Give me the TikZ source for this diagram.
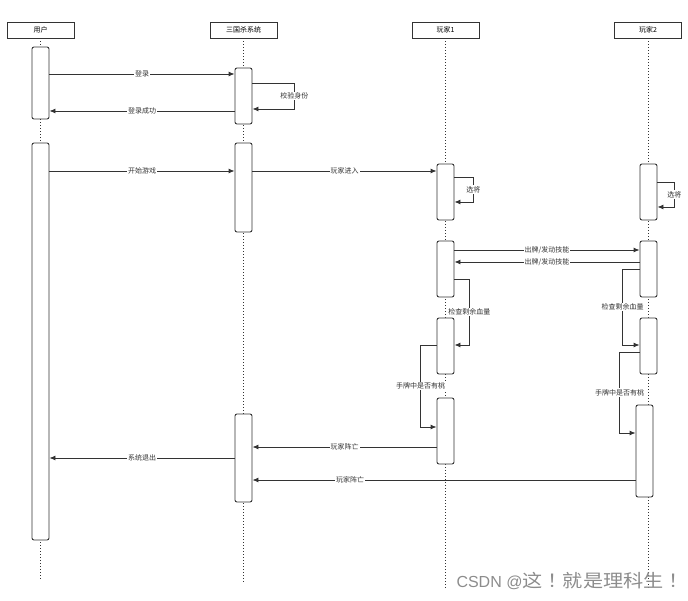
\documentclass[tikz,border=0pt]{standalone}
\usepackage{fontspec}
\setmainfont{Noto Sans CJK SC}
\newfontfamily\latwm{Liberation Sans}
\newfontfamily\wmcjk{Noto Sans CJK TC}
\usetikzlibrary{arrows.meta}
\definecolor{ln}{RGB}{51,51,51}
\begin{document}
\begin{tikzpicture}[x=1pt,y=-1pt,
  hdr/.style={draw=ln, line width=0.9pt, minimum width=67pt, minimum height=16pt, inner sep=0pt, font=\fontsize{7}{8}\selectfont},
  act/.style={draw=ln, fill=white, line width=0.9pt, rounded corners=2pt, minimum width=17pt, inner sep=0pt},
  life/.style={draw=ln, line width=0.8pt, dash pattern=on 1pt off 2pt},
  msg/.style={draw=ln, line width=0.9pt, -{Latex[length=6pt,width=5pt]}},
  lbl/.style={fill=white, inner sep=1pt, text=ln, font=\fontsize{7}{8}\selectfont}
]
\useasboundingbox (0,0) rectangle (688,601);
% headers
\node[hdr] (hu) at (40.5,30) {用户};
\node[hdr] (hs) at (243.5,30) {三国杀系统};
\node[hdr] (h1) at (445.5,30) {玩家1};
\node[hdr] (h2) at (648,30) {玩家2};
% lifelines
\coordinate (eu) at (40.5,580);
\coordinate (es) at (243.5,584);
\coordinate (e1) at (445.5,588);
\coordinate (e2) at (648,588);
\draw[life] (hu.south) -- (eu);
\draw[life] (hs.south) -- (es);
\draw[life] (h1.south) -- (e1);
\draw[life] (h2.south) -- (e2);
% activation boxes
\node[act, minimum height=72pt] (u1) at (40.5,83) {};
\node[act, minimum height=56pt] (s1) at (243.5,96) {};
\node[act, minimum height=397pt] (u2) at (40.5,341.5) {};
\node[act, minimum height=89pt] (s2) at (243.5,187.5) {};
\node[act, minimum height=56pt] (p1a) at (445.5,192) {};
\node[act, minimum height=56pt] (p2a) at (648.5,192) {};
\node[act, minimum height=56pt] (p1b) at (445.5,269) {};
\node[act, minimum height=56pt] (p2b) at (648.5,269) {};
\node[act, minimum height=56pt] (p1c) at (445.5,346) {};
\node[act, minimum height=56pt] (p2c) at (648.5,346) {};
\node[act, minimum height=66pt] (p1d) at (445.5,431) {};
\node[act, minimum height=92pt] (p2d) at (644.5,451) {};
\node[act, minimum height=88pt] (s3) at (243.5,458) {};
% messages
\draw[msg] (u1.east |- 0,74) -- node[lbl]{登录} (s1.west |- 0,74);
\draw[msg] (s1.east |- 0,83) -- ++(42,0) -- node[lbl]{校验身份} ++(0,26) -- (s1.east |- 0,109);
\draw[msg] (s1.west |- 0,111) -- node[lbl]{登录成功} (u1.east |- 0,111);
\draw[msg] (u2.east |- 0,171) -- node[lbl]{开始游戏} (s2.west |- 0,171);
\draw[msg] (s2.east |- 0,171) -- node[lbl]{玩家进入} (p1a.west |- 0,171);
\draw[msg] (p1a.east |- 0,177) -- ++(19,0) -- node[lbl]{选将} ++(0,25) -- (p1a.east |- 0,202);
\draw[msg] (p2a.east |- 0,182) -- ++(17,0) -- node[lbl]{选将} ++(0,25) -- (p2a.east |- 0,207);
\draw[msg] (p1b.east |- 0,250) -- node[lbl]{出牌/发动技能} (p2b.west |- 0,250);
\draw[msg] (p2b.west |- 0,262) -- node[lbl]{出牌/发动技能} (p1b.east |- 0,262);
\draw[msg] (p1b.east |- 0,279) -- ++(15,0) -- node[lbl]{检查剩余血量} ++(0,66) -- (p1c.east |- 0,345);
\draw[msg] (p2b.west |- 0,269) -- ++(-17,0) -- node[lbl]{检查剩余血量} ++(0,76) -- (p2c.west |- 0,345);
\draw[msg] (p1c.west |- 0,345) -- ++(-16,0) -- node[lbl]{手牌中是否有桃} ++(0,82) -- (p1d.west |- 0,427);
\draw[msg] (p2c.west |- 0,352) -- ++(-20,0) -- node[lbl]{手牌中是否有桃} ++(0,81) -- (p2d.west |- 0,433);
\draw[msg] (p1d.west |- 0,447) -- node[lbl]{玩家阵亡} (s3.east |- 0,447);
\draw[msg] (s3.west |- 0,458) -- node[lbl]{系统退出} (u2.east |- 0,458);
\draw[msg] (p2d.west |- 0,480) -- node[lbl, pos=0.745]{玩家阵亡} (s3.east |- 0,480);
% watermark
\node[anchor=east, text=black!45, inner sep=0pt] (wm) at (684,581) {{\latwm\fontsize{16}{18}\selectfont CSDN @}{\wmcjk\fontsize{18}{20}\selectfont\scalebox{1.12}[1]{这！就是理科生！}}};
\end{tikzpicture}
\end{document}
